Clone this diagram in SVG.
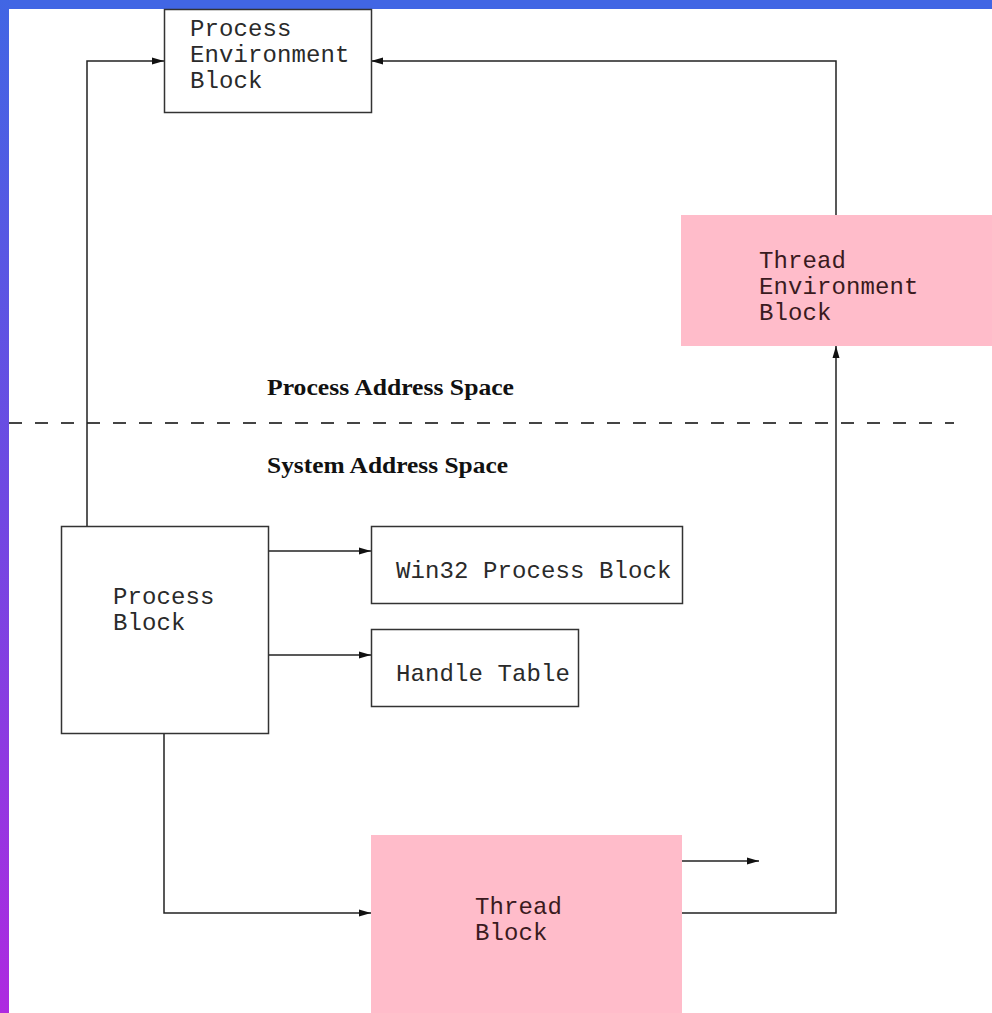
<svg xmlns="http://www.w3.org/2000/svg" width="992" height="1013" viewBox="0 0 992 1013">
  <defs>
    <linearGradient id="edge" x1="0" y1="0" x2="0" y2="1">
      <stop offset="0" stop-color="#4166E4"/>
      <stop offset="0.5" stop-color="#7048E2"/>
      <stop offset="1" stop-color="#AE2AE0"/>
    </linearGradient>
    <marker id="arrow" viewBox="0 0 12 8" refX="12" refY="4" markerWidth="12" markerHeight="8" markerUnits="userSpaceOnUse" orient="auto">
      <path d="M0,0.5 L12,4 L0,7.5 z" fill="#111"/>
    </marker>
    <style>
      .box { fill: #ffffff; stroke: #333; stroke-width: 1.5; }
      .pink { fill: #FFBCCA; stroke: none; }
      .mono { font-family: "Liberation Mono", "Courier New", monospace; font-size: 24px; letter-spacing: 0.1px; fill: #2a2a2a; }
      .pinktext { fill: #3a1a20; }
      .serif { font-family: "Liberation Serif", "Times New Roman", serif; font-weight: bold; font-size: 23px; fill: #111; }
      .wire { fill: none; stroke: #222; stroke-width: 1.5; }
      .dash { fill: none; stroke: #444; stroke-width: 1.8; stroke-dasharray: 13 13; }
    </style>
  </defs>

  <!-- page background and framing bars -->
  <rect x="0" y="0" width="992" height="1013" fill="#ffffff"/>
  <rect x="0" y="0" width="992" height="9" fill="#4166E4"/>
  <rect x="0" y="0" width="9" height="1013" fill="url(#edge)"/>

  <!-- boundary between user and kernel space -->
  <g id="boundary">
    <line class="dash" x1="9" y1="423" x2="954" y2="423"/>
    <text class="serif" x="267" y="395" textLength="247" lengthAdjust="spacingAndGlyphs">Process Address Space</text>
    <text class="serif" x="267" y="473" textLength="241" lengthAdjust="spacingAndGlyphs">System Address Space</text>
  </g>

  <!-- connectors -->
  <g id="connectors">
    <polyline class="wire" points="87,526 87,61 164,61" marker-end="url(#arrow)"/>
    <polyline class="wire" points="836,215 836,61 371,61" marker-end="url(#arrow)"/>
    <line class="wire" x1="268" y1="551" x2="371" y2="551" marker-end="url(#arrow)"/>
    <line class="wire" x1="268" y1="655" x2="371" y2="655" marker-end="url(#arrow)"/>
    <polyline class="wire" points="164,733 164,913 371,913" marker-end="url(#arrow)"/>
    <line class="wire" x1="682" y1="861" x2="759" y2="861" marker-end="url(#arrow)"/>
    <polyline class="wire" points="682,913 836,913 836,346" marker-end="url(#arrow)"/>
  </g>

  <g id="peb">
    <rect class="box" x="164.5" y="9.5" width="207" height="103"/>
    <text class="mono" x="190" y="36">Process</text>
    <text class="mono" x="190" y="62">Environment</text>
    <text class="mono" x="190" y="88">Block</text>
  </g>

  <g id="teb">
    <rect class="pink" x="681" y="215" width="311" height="131"/>
    <text class="mono pinktext" x="759" y="268">Thread</text>
    <text class="mono pinktext" x="759" y="294">Environment</text>
    <text class="mono pinktext" x="759" y="320">Block</text>
  </g>

  <g id="process-block">
    <rect class="box" x="61.5" y="526.5" width="207" height="207"/>
    <text class="mono" x="113" y="604">Process</text>
    <text class="mono" x="113" y="630">Block</text>
  </g>

  <g id="win32-process-block">
    <rect class="box" x="371.5" y="526.5" width="311" height="77"/>
    <text class="mono" x="396" y="578">Win32 Process Block</text>
  </g>

  <g id="handle-table">
    <rect class="box" x="371.5" y="629.5" width="207" height="77"/>
    <text class="mono" x="396" y="681">Handle Table</text>
  </g>

  <g id="thread-block">
    <rect class="pink" x="371" y="835" width="311" height="178"/>
    <text class="mono pinktext" x="475" y="914">Thread</text>
    <text class="mono pinktext" x="475" y="940">Block</text>
  </g>
</svg>
